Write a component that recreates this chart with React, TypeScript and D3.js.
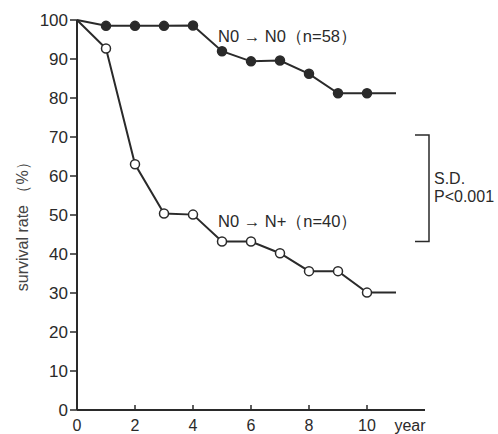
import * as d3 from "d3";

const years = [0, 1, 2, 3, 4, 5, 6, 7, 8, 9, 10];
const n0n0 = [100, 98.5, 98.5, 98.5, 98.6, 92, 89.4, 89.6, 86.2, 81.2, 81.2];
const n0np = [100, 92.7, 63, 50.4, 50.1, 43.2, 43.2, 40.2, 35.6, 35.6, 30.1];
const lastYear = 11;
const yTicks = [0, 10, 20, 30, 40, 50, 60, 70, 80, 90, 100];
const xTicks = [0, 2, 4, 6, 8, 10];

const W = 498;
const H = 434;
const font = "'Liberation Sans', Arial, sans-serif";
const ink = "#2a2a2a";

export default function App() {
  const x = d3.scaleLinear().domain([0, 12]).range([77, 425]);
  const y = d3.scaleLinear().domain([0, 100]).range([410, 20]);

  const line = d3
    .line<[number, number]>()
    .x((d) => x(d[0]))
    .y((d) => y(d[1]));

  const pts = (vals: number[]) => {
    const p = years.map((yr, i) => [yr, vals[i]] as [number, number]);
    p.push([lastYear, vals[vals.length - 1]]);
    return p;
  };

  const series = [
    { vals: n0n0, fill: ink },
    { vals: n0np, fill: "#fff" },
  ];

  return (
    <svg width={W} height={H} style={{ position: "absolute", left: 0, top: 0 }} fontFamily={font}>
      <rect width={W} height={H} fill="#fff" />
      {/* axes */}
      <line x1={x(0)} x2={x(0)} y1={y(100)} y2={y(0)} stroke={ink} strokeWidth={2} />
      <line x1={x(0)} x2={x(12)} y1={y(0)} y2={y(0)} stroke={ink} strokeWidth={2} />
      {yTicks.map((t) => (
        <g key={t}>
          <line x1={x(0) - 7} x2={x(0)} y1={y(t)} y2={y(t)} stroke={ink} strokeWidth={1.5} />
          <text x={x(0) - 9} y={y(t)} dy="0.35em" textAnchor="end" fontSize={17} fill={ink}>
            {t}
          </text>
        </g>
      ))}
      {xTicks.map((t) => (
        <g key={t}>
          {t > 0 && <line x1={x(t)} x2={x(t)} y1={y(0) - 5} y2={y(0)} stroke={ink} strokeWidth={1.5} />}
          <text x={x(t)} y={425} dy="0.35em" textAnchor="middle" fontSize={16} fill={ink}>
            {t}
          </text>
        </g>
      ))}
      <text x={410} y={425} dy="0.35em" textAnchor="middle" fontSize={16} fill={ink}>
        year
      </text>
      <text
        transform={`translate(22,${y(48)}) rotate(-90)`}
        textAnchor="middle"
        dy="0.35em"
        fontSize={16}
        fill="#444"
      >
        survival rate （%）
      </text>

      {/* series */}
      {series.map((s, i) => (
        <g key={i}>
          <path d={line(pts(s.vals)) || ""} fill="none" stroke={ink} strokeWidth={2} />
          {years.slice(1).map((yr, j) => (
            <circle key={yr} cx={x(yr)} cy={y(s.vals[j + 1])} r={4.5} fill={s.fill} stroke={ink} strokeWidth={1.5} />
          ))}
        </g>
      ))}

      <text x={218} y={42} fontSize={16.5} fill={ink}>
        N0 → N0（n=58）
      </text>
      <text x={218} y={227} fontSize={16.5} fill={ink}>
        N0 → N+（n=40）
      </text>

      {/* significance bracket */}
      <path
        d={`M${415},${y(70.5)}H${429}V${y(43.2)}H${415}`}
        fill="none"
        stroke={ink}
        strokeWidth={1.5}
      />
      <text x={434} y={184} fontSize={16} fill={ink}>
        S.D.
      </text>
      <text x={434} y={202} fontSize={16} fill={ink}>
        P&lt;0.001
      </text>
    </svg>
  );
}
